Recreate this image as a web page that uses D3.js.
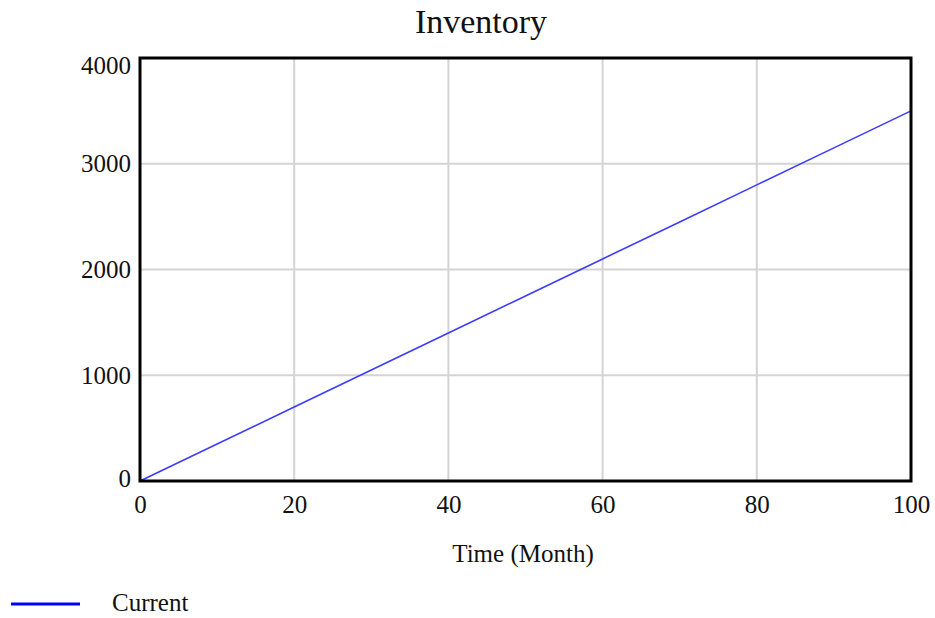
<!DOCTYPE html>
<html><head><meta charset="utf-8">
<script src="https://cdn.jsdelivr.net/npm/d3@7"></script>
<style>body{margin:0;background:#fff}svg{display:block}text{font-family:"Liberation Serif","Times New Roman",serif;fill:#111}</style>
</head><body><svg id="c" width="935" height="618"></svg>
<script>
const months = [0,10,20,30,40,50,60,70,80,90,100];
const current = [0,350,700,1050,1400,1750,2100,2450,2800,3150,3500];
const xTicks = [0,20,40,60,80,100];
const yTicks = [0,1000,2000,3000,4000];
const title = "Inventory", xTitle = "Time (Month)", seriesName = "Current";

const svg = d3.select("#c");
const L=140,R=911,T=58,B=481;
const x = d3.scaleLinear().domain([0,100]).range([L,R]);
const y = d3.scaleLinear().domain([0,4000]).range([B,T]);

svg.append("g").selectAll("line").data(xTicks.slice(1,-1)).join("line")
  .attr("x1",d=>x(d)).attr("x2",d=>x(d)).attr("y1",T).attr("y2",B)
  .attr("stroke","#d4d4d4").attr("stroke-width",2);
svg.append("g").selectAll("line").data(yTicks.slice(1,-1)).join("line")
  .attr("y1",d=>y(d)).attr("y2",d=>y(d)).attr("x1",L).attr("x2",R)
  .attr("stroke","#d4d4d4").attr("stroke-width",2);

svg.append("path").datum(months.map((m,i)=>[m,current[i]]))
  .attr("d",d3.line().x(d=>x(d[0])).y(d=>y(d[1])))
  .attr("fill","none").attr("stroke","#3c3cff").attr("stroke-width",1.6);

svg.append("rect").attr("x",L).attr("y",T).attr("width",R-L).attr("height",B-T)
  .attr("fill","none").attr("stroke","#000").attr("stroke-width",3);

const xa = svg.append("g").attr("transform",`translate(0,${B})`)
  .call(d3.axisBottom(x).tickValues(xTicks).tickSize(0).tickPadding(14));
xa.select(".domain").remove();
xa.selectAll("text").attr("font-size",25).attr("font-family","Liberation Serif, serif").attr("fill","#111");

const ya = svg.append("g").attr("transform",`translate(${L},0)`)
  .call(d3.axisLeft(y).tickValues(yTicks).tickSize(0).tickPadding(9).tickFormat(d3.format("d")));
ya.select(".domain").remove();
ya.selectAll("text").attr("font-size",25).attr("font-family","Liberation Serif, serif").attr("fill","#111")
  .attr("dy",d=> d===4000 ? "0.62em" : d===0 ? "0.22em" : "0.32em");

svg.append("text").attr("x",481).attr("y",33).attr("text-anchor","middle").attr("font-size",34).text(title);
svg.append("text").attr("x",523).attr("y",562).attr("text-anchor","middle").attr("font-size",25).text(xTitle);

svg.append("line").attr("x1",11).attr("x2",80).attr("y1",604).attr("y2",604).attr("stroke","#0000ff").attr("stroke-width",3);
svg.append("text").attr("x",112).attr("y",611).attr("font-size",25).text(seriesName);
</script></body></html>
